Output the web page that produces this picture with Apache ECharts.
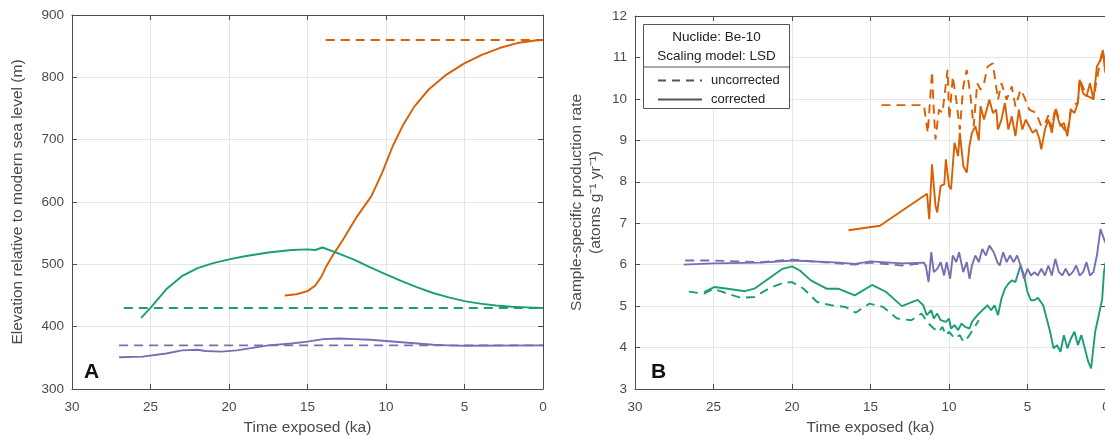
<!DOCTYPE html>
<html><head><meta charset="utf-8">
<script src="https://cdn.jsdelivr.net/npm/echarts@6/dist/echarts.min.js"></script>
<style>html,body{margin:0;padding:0;overflow:hidden;background:#fff}#c{width:1110px;height:436px}</style>
</head><body><div id="c"></div>
<script>
// ---------- Panel A: elevation (m) vs time exposed (ka) ----------
const aOrangeSolid = [[16.45,450],[15.7,452],[15.0,457],[14.5,466],[14.1,481],[13.8,497],[13.3,518],[12.75,539],[11.84,577],[10.94,609],[10.26,646],[9.58,689],[8.9,724],[8.2,753],[7.3,780],[6.17,804],[5.04,822],[3.9,836],[2.77,847],[1.63,855],[0.5,859],[0,860]];
const aOrangeDashed = [[13.84,860],[0,860]];
const aGreenSolid = [[25.6,414],[25.0,430],[24.0,460],[23.0,481],[22.0,494],[21.0,502],[20.0,508],[19.0,513],[17.5,519],[16.0,523],[15.0,524],[14.5,523],[14.05,527],[13.5,522],[13.0,517],[12.0,507],[11.0,495],[10.0,484],[9.0,473],[8.0,463],[7.0,454],[6.0,447],[5.0,441],[4.0,437],[3.0,434],[2.0,432],[1.0,431],[0,430]];
const aGreenDashed = [[26.7,430],[0,430]];
const aPurpleSolid = [[27.0,351],[25.5,352],[24.0,357],[23.0,362],[22.0,363],[21.5,361],[20.5,360],[19.5,362],[18.5,366],[17.5,370],[16.0,373],[15.0,376],[14.0,380],[13.0,381],[12.0,380],[11.0,379],[10.0,377],[9.0,375],[8.0,373],[7.0,371],[6.0,370],[5.0,369.5],[0,370]];
const aPurpleDashed = [[27.0,370],[0,370]];

// ---------- Panel B: production rate vs time exposed (ka) ----------
const bOrangeSolid = [[16.4,6.83],[14.4,6.94],[11.4,7.71],[11.26,7.1],[11.08,8.42],[10.86,7.42],[10.75,7.26],[10.53,7.9],[10.3,7.94],[10.2,8.54],[10.0,7.9],[9.87,7.82],[9.65,8.94],[9.42,8.62],[9.31,9.18],[9.09,8.38],[8.87,8.22],[8.7,8.86],[8.54,9.18],[8.32,9.34],[8.1,9.0],[7.99,9.82],[7.77,9.5],[7.43,9.98],[7.2,9.66],[6.99,9.74],[6.88,9.26],[6.66,9.5],[6.44,9.9],[6.22,9.26],[6.0,9.58],[5.77,9.1],[5.55,9.74],[5.33,9.26],[5.11,9.5],[4.89,9.34],[4.67,9.18],[4.45,9.26],[4.23,9.02],[4.12,8.78],[3.89,9.26],[3.67,9.5],[3.45,9.18],[3.23,9.74],[2.9,9.34],[2.68,9.42],[2.46,9.1],[2.23,9.74],[2.01,9.66],[1.79,9.9],[1.68,10.46],[1.46,10.14],[1.24,10.06],[1.02,10.38],[0.8,9.98],[0.58,10.78],[0.35,10.94],[0.2,11.18],[0.07,10.7],[0,10.6]];
const bOrangeDashed = [[14.3,9.85],[11.6,9.85],[11.35,9.18],[11.08,10.66],[10.97,9.74],[10.86,9.02],[10.64,9.74],[10.42,9.66],[10.09,10.7],[9.98,9.5],[9.76,10.54],[9.54,9.98],[9.31,9.26],[9.09,10.3],[8.87,10.7],[8.65,10.14],[8.43,9.34],[8.2,10.38],[7.99,10.22],[7.77,10.38],[7.54,10.78],[7.21,10.86],[6.88,9.98],[6.66,10.38],[6.33,9.98],[6.0,10.3],[5.77,9.82],[5.44,10.22],[5.22,10.06],[4.89,9.74],[4.45,9.66],[4.12,9.34],[3.89,9.4],[3.67,9.6],[3.45,9.28],[3.23,9.8],[2.9,9.4],[2.46,9.15],[2.23,9.78],[1.79,9.92],[1.68,10.48],[1.24,10.08],[0.8,10.0],[0.35,10.95],[0.2,11.18],[0,10.6]];
const bGreenSolid = [[25.6,5.34],[24.96,5.46],[24.1,5.42],[23.0,5.36],[22.4,5.42],[21.5,5.66],[20.6,5.9],[20.0,5.96],[19.5,5.86],[18.8,5.62],[17.8,5.42],[17.06,5.42],[16.0,5.26],[14.9,5.51],[14.0,5.34],[13.0,5.0],[12.0,5.15],[11.64,5.02],[11.42,4.78],[11.13,4.9],[10.97,4.7],[10.75,4.82],[10.53,4.66],[10.2,4.62],[10.0,4.7],[9.87,4.46],[9.65,4.54],[9.42,4.42],[9.2,4.58],[8.98,4.5],[8.69,4.46],[8.54,4.62],[8.2,4.78],[7.88,4.9],[7.54,5.02],[7.32,4.9],[7.1,5.02],[6.88,4.78],[6.66,5.18],[6.44,5.42],[6.22,5.54],[6.0,5.62],[5.77,5.58],[5.44,5.98],[5.22,5.74],[5.0,5.34],[4.78,5.14],[4.56,5.14],[4.34,5.2],[4.0,5.02],[3.78,4.7],[3.56,4.38],[3.34,3.98],[3.12,4.06],[2.9,3.9],[2.68,4.3],[2.46,3.98],[2.23,4.22],[2.01,4.38],[1.79,4.06],[1.57,4.3],[1.35,3.98],[1.13,3.66],[0.95,3.5],[0.69,4.38],[0.46,4.78],[0.24,5.18],[0.13,5.82],[0.02,6.06]];
const bGreenDashed = [[26.57,5.35],[25.6,5.3],[25.0,5.42],[24.1,5.3],[23.25,5.2],[22.4,5.22],[21.5,5.42],[20.6,5.56],[20.0,5.58],[19.26,5.42],[18.4,5.1],[17.5,5.02],[16.6,4.98],[15.95,4.84],[15.07,5.06],[14.2,4.98],[13.3,4.7],[12.4,4.66],[11.75,4.82],[11.3,4.58],[10.97,4.46],[10.64,4.38],[10.42,4.5],[10.2,4.3],[9.98,4.38],[9.65,4.22],[9.31,4.3],[9.09,4.14],[8.76,4.26],[8.43,4.46],[8.1,4.66]];
const bPurpleSolid = [[26.9,6.0],[25.0,6.03],[22.0,6.05],[19.93,6.1],[17.0,6.05],[16.0,6.02],[15.0,6.08],[13.0,6.03],[11.6,6.05],[11.48,5.98],[11.3,5.58],[11.13,6.3],[10.97,5.82],[10.75,5.9],[10.53,6.06],[10.31,5.74],[10.15,6.06],[9.93,5.66],[9.76,6.22],[9.54,6.06],[9.36,6.3],[9.09,5.82],[8.87,6.06],[8.69,5.66],[8.54,5.98],[8.32,6.22],[8.1,6.06],[7.88,6.38],[7.65,6.22],[7.43,6.46],[7.15,6.3],[6.92,6.06],[6.77,5.98],[6.55,6.3],[6.33,6.06],[6.11,6.22],[5.88,6.06],[5.66,6.22],[5.44,5.98],[5.22,5.66],[5.0,5.9],[4.78,5.74],[4.56,5.82],[4.34,5.74],[4.12,5.9],[3.89,5.74],[3.67,5.98],[3.45,5.74],[3.23,6.14],[3.0,5.82],[2.79,5.74],[2.57,5.9],[2.35,5.74],[2.12,5.82],[1.9,5.98],[1.68,5.74],[1.46,5.82],[1.24,6.06],[1.02,5.74],[0.8,5.82],[0.58,6.22],[0.35,6.86],[0.13,6.62],[0,6.5]];
const bPurpleDashed = [[26.8,6.1],[25.0,6.1],[22.0,6.06],[20.0,6.12],[18.0,6.06],[16.0,6.0],[15.0,6.05],[13.0,5.98],[12.0,6.02],[11.5,5.98]];

const xLabelName = 'Time exposed (ka)';
const aYName = 'Elevation relative to modern sea level (m)';
const bYName = 'Sample-specific production rate\n(atoms g\u207B\u00B9 yr\u207B\u00B9)';
const legendTitle = ['Nuclide: Be-10', 'Scaling model: LSD'];
const legendItems = ['uncorrected', 'corrected'];

const ORANGE = '#D95F02', GREEN = '#1B9E77', PURPLE = '#7570B3';
const FONT = '"Liberation Sans", Arial, Helvetica, sans-serif';
const AXC = '#4d4d4d', TXT = '#4a4a4a', GRIDC = '#e6e6e6';
const DASH = [9, 6];

function mainX(gi) {
  return {
    type: 'value', gridIndex: gi, min: 0, max: 30, interval: 5, inverse: true,
    name: xLabelName, nameLocation: 'middle', nameGap: 31,
    nameTextStyle: { color: TXT, fontSize: 15.5, fontFamily: FONT },
    axisLine: { show: true, lineStyle: { color: AXC, width: 1 } },
    axisTick: { show: true, inside: true, length: 5, lineStyle: { color: AXC } },
    axisLabel: { color: TXT, fontSize: 13.5, fontFamily: FONT, margin: 11 },
    splitLine: { show: true, lineStyle: { color: GRIDC, width: 1 } }
  };
}
function deco(type, gi, pos, min, max, interval, inverse) {
  return {
    type: 'value', gridIndex: gi, position: pos, min: min, max: max, interval: interval, inverse: !!inverse,
    axisLine: { show: true, onZero: false, lineStyle: { color: AXC, width: 1 } },
    axisTick: { show: true, inside: true, length: 5, lineStyle: { color: AXC } },
    axisLabel: { show: false }, splitLine: { show: false }
  };
}
function mainY(gi, min, max, interval, name, gap) {
  return {
    type: 'value', gridIndex: gi, min: min, max: max, interval: interval,
    name: name, nameLocation: 'middle', nameGap: gap, nameRotate: 90,
    nameTextStyle: { color: TXT, fontSize: 15.5, fontFamily: FONT, lineHeight: 19 },
    axisLine: { show: true, onZero: false, lineStyle: { color: AXC, width: 1 } },
    axisTick: { show: true, inside: true, length: 5, lineStyle: { color: AXC } },
    axisLabel: { color: TXT, fontSize: 13.5, fontFamily: FONT, margin: 8 },
    splitLine: { show: true, lineStyle: { color: GRIDC, width: 1 } }
  };
}
function line(data, color, dashed, xi, yi) {
  return {
    type: 'line', xAxisIndex: xi, yAxisIndex: yi, data: data, symbol: 'none',
    showSymbol: false, smooth: false, silent: true,
    lineStyle: { color: color, width: 1.9, type: dashed ? DASH : 'solid' }
  };
}

const chart = echarts.init(document.getElementById('c'), null, { renderer: 'canvas' });
chart.setOption({
  animation: false,
  backgroundColor: '#fff',
  grid: [
    { left: 72, top: 15, width: 471, height: 374, containLabel: false, outerBoundsMode: 'none' },
    { left: 635, top: 16, width: 471, height: 373, containLabel: false, outerBoundsMode: 'none' }
  ],
  xAxis: [
    mainX(0), deco('x', 0, 'top', 0, 30, 5, true),
    mainX(1), deco('x', 1, 'top', 0, 30, 5, true)
  ],
  yAxis: [
    mainY(0, 300, 900, 100, aYName, 45), deco('y', 0, 'right', 300, 900, 100),
    mainY(1, 3, 12, 1, bYName, 30), deco('y', 1, 'right', 3, 12, 1)
  ],
  series: [
    line(aOrangeDashed, ORANGE, true, 0, 0),
    line(aOrangeSolid, ORANGE, false, 0, 0),
    line(aGreenDashed, GREEN, true, 0, 0),
    line(aGreenSolid, GREEN, false, 0, 0),
    line(aPurpleDashed, PURPLE, true, 0, 0),
    line(aPurpleSolid, PURPLE, false, 0, 0),
    line(bOrangeDashed, ORANGE, true, 2, 2),
    line(bOrangeSolid, ORANGE, false, 2, 2),
    line(bGreenDashed, GREEN, true, 2, 2),
    line(bGreenSolid, GREEN, false, 2, 2),
    line(bPurpleDashed, PURPLE, true, 2, 2),
    line(bPurpleSolid, PURPLE, false, 2, 2)
  ],
  graphic: [
    { type: 'text', left: 84, top: 362, style: { text: 'A', fontSize: 21, fontWeight: 'bold', fontFamily: FONT, fill: '#111' } },
    { type: 'text', left: 651, top: 362, style: { text: 'B', fontSize: 21, fontWeight: 'bold', fontFamily: FONT, fill: '#111' } },
    { type: 'rect', shape: { x: 643.5, y: 24.5, width: 146, height: 84 }, style: { fill: '#fff', stroke: '#555', lineWidth: 1 }, z: 10 },
    { type: 'line', shape: { x1: 643.5, y1: 67, x2: 789.5, y2: 67 }, style: { stroke: '#555', lineWidth: 1 }, z: 11 },
    { type: 'text', x: 716.5, y: 37, style: { text: legendTitle[0], fontSize: 13.5, fontFamily: FONT, fill: '#222', align: 'center', verticalAlign: 'middle' }, z: 11 },
    { type: 'text', x: 716.5, y: 56, style: { text: legendTitle[1], fontSize: 13.5, fontFamily: FONT, fill: '#222', align: 'center', verticalAlign: 'middle' }, z: 11 },
    { type: 'line', shape: { x1: 658, y1: 80.5, x2: 702, y2: 80.5 }, style: { stroke: '#555', lineWidth: 2, lineDash: [8, 6] }, z: 11 },
    { type: 'text', x: 711, y: 80.5, style: { text: legendItems[0], fontSize: 13, fontFamily: FONT, fill: '#222', verticalAlign: 'middle' }, z: 11 },
    { type: 'line', shape: { x1: 658, y1: 99.5, x2: 702, y2: 99.5 }, style: { stroke: '#555', lineWidth: 2 }, z: 11 },
    { type: 'text', x: 711, y: 99.5, style: { text: legendItems[1], fontSize: 13, fontFamily: FONT, fill: '#222', verticalAlign: 'middle' }, z: 11 }
  ]
});
</script>
</body></html>
